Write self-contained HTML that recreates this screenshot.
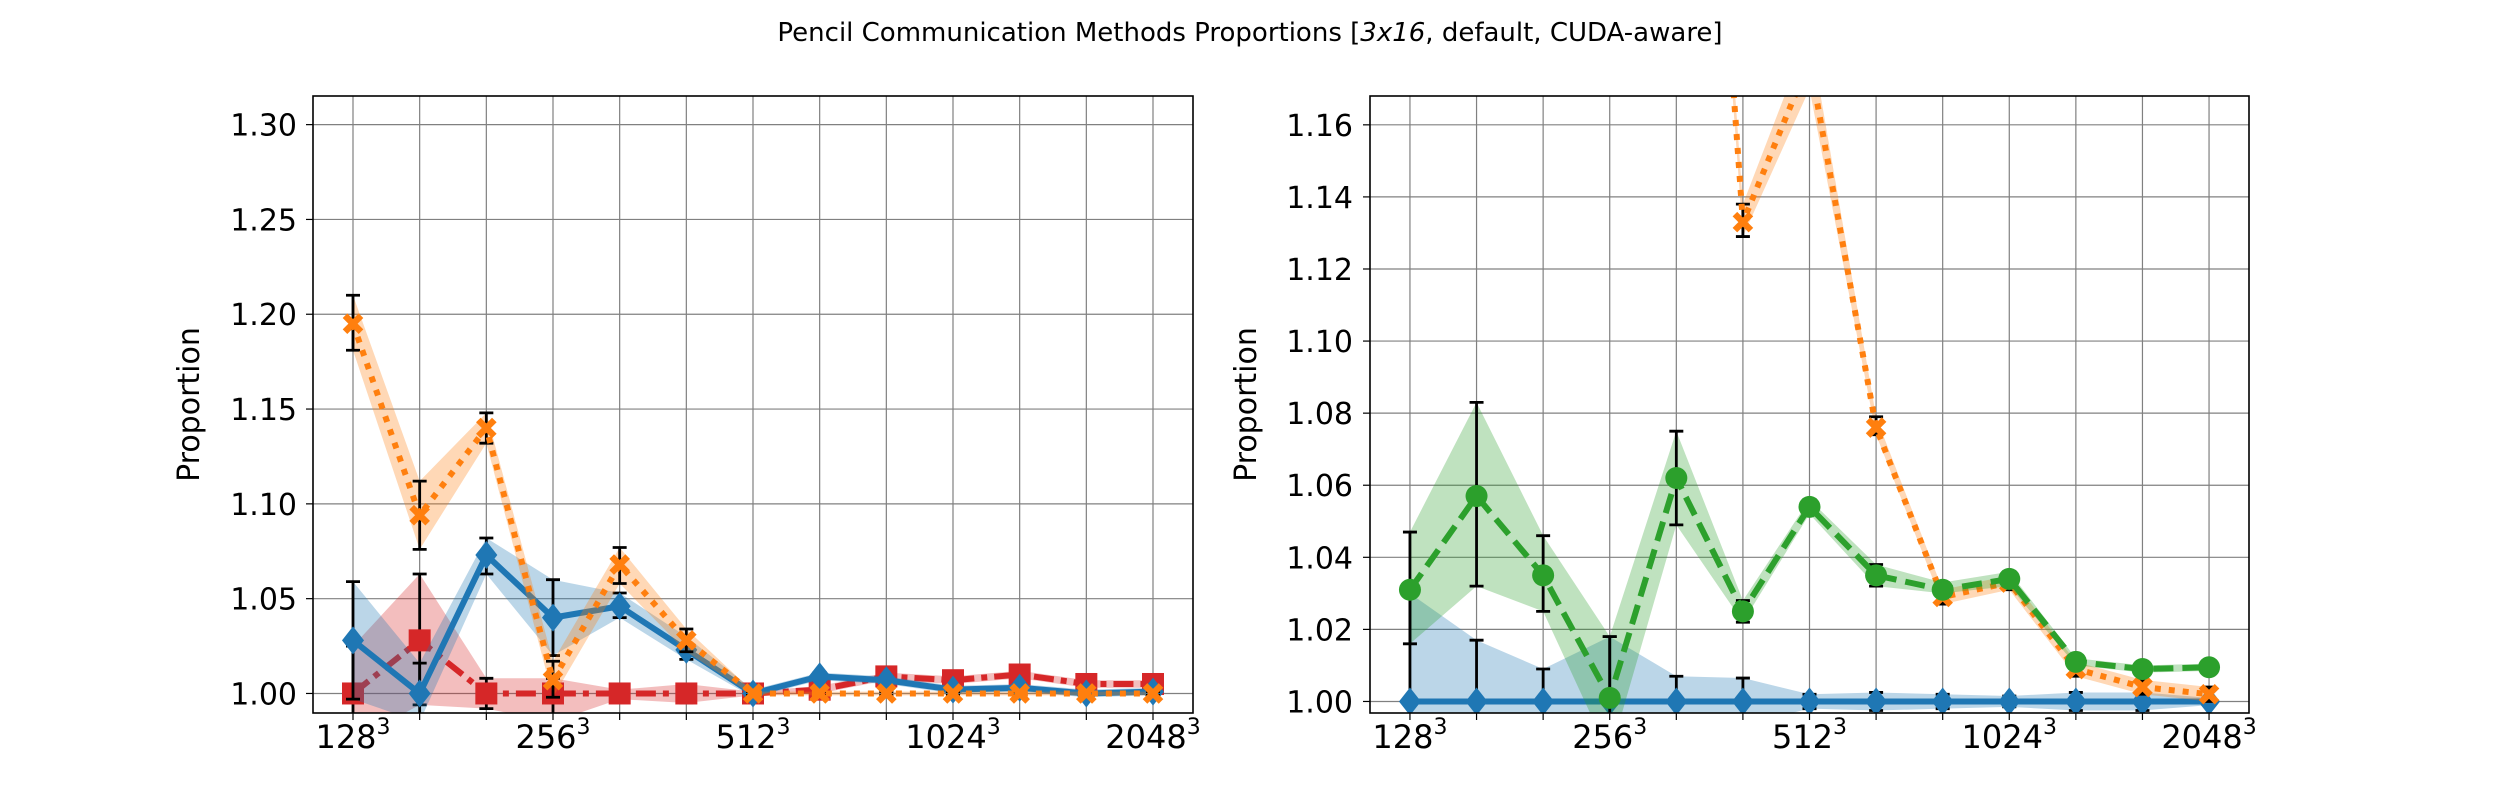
<!DOCTYPE html>
<html><head><meta charset="utf-8">
<style>
html,body{margin:0;padding:0;background:#fff;}
svg{display:block;font-family:"DejaVu Sans","Liberation Sans",sans-serif;}
</style></head>
<body>
<svg id="fig" width="2500" height="800" viewBox="0 0 2500 800" xmlns="http://www.w3.org/2000/svg">
<rect width="2500" height="800" fill="#fff"/>
<text x="1250" y="41" text-anchor="middle" font-size="26">Pencil Communication Methods Proportions [<tspan font-style="italic">3x16</tspan>, default, CUDA-aware]</text>
</svg>
<script>
// ---- data ----
const xLabels = ["128","","","256","","","512","","","1024","","","2048"];
const leftYTicks = [1.00,1.05,1.10,1.15,1.20,1.25,1.30];
const rightYTicks = [1.00,1.02,1.04,1.06,1.08,1.10,1.12,1.14,1.16];

const L_blue = [1.028,1.000,1.073,1.040,1.046,1.023,1.000,1.009,1.007,1.002,1.003,1.000,1.001];
const L_blueLo = [0.997,0.985,1.063,1.020,1.040,1.018,0.998,1.007,1.005,1.000,1.001,0.998,0.999];
const L_blueHi = [1.059,1.016,1.082,1.060,1.053,1.030,1.002,1.011,1.009,1.004,1.005,1.002,1.003];
const L_orange = [1.195,1.094,1.140,1.007,1.068,1.028,1.000,1.000,1.000,1.000,1.000,1.000,1.000];
const L_orangeLo = [1.181,1.076,1.132,0.998,1.058,1.022,0.999,0.999,0.999,0.999,0.999,0.999,0.999];
const L_orangeHi = [1.210,1.112,1.148,1.017,1.077,1.034,1.001,1.001,1.001,1.001,1.001,1.001,1.001];
const L_red = [1.000,1.028,1.000,1.000,1.000,1.000,1.000,1.002,1.009,1.007,1.010,1.005,1.005];
const L_redLo = [0.975,0.994,0.992,0.985,0.997,0.995,0.999,1.000,1.007,1.005,1.008,1.003,1.003];
const L_redHi = [1.025,1.063,1.008,1.008,1.002,1.005,1.001,1.004,1.011,1.009,1.012,1.007,1.007];

const R_blue = [1.000,1.000,1.000,1.000,1.000,1.000,1.000,1.000,1.000,1.000,1.000,1.000,1.000];
const R_blueLo = [0.985,0.983,0.991,0.982,0.993,0.9935,0.998,0.9975,0.998,0.9985,0.9975,0.9975,0.999];
const R_blueHi = [1.030,1.017,1.009,1.018,1.007,1.0065,1.002,1.0025,1.002,1.0015,1.0025,1.0025,1.001];
const R_green = [1.031,1.057,1.035,1.001,1.062,1.025,1.054,1.035,1.031,1.034,1.011,1.009,1.0095];
const R_greenLo = [1.016,1.032,1.025,0.985,1.049,1.022,1.052,1.032,1.030,1.032,1.010,1.008,1.0085];
const R_greenHi = [1.047,1.083,1.046,1.018,1.075,1.028,1.056,1.038,1.033,1.036,1.012,1.010,1.0105];
const R_orange = [1.50,1.50,1.50,1.50,1.39,1.133,1.178,1.076,1.029,1.033,1.009,1.004,1.002];
const R_orangeLo = [1.49,1.49,1.49,1.49,1.38,1.129,1.170,1.074,1.027,1.031,1.007,1.002,1.000];
const R_orangeHi = [1.51,1.51,1.51,1.51,1.40,1.138,1.186,1.079,1.031,1.035,1.011,1.006,1.004];

const NS = "http://www.w3.org/2000/svg";
const svg = document.getElementById('fig');
function mk(tag, attrs, parent){
  const e = document.createElementNS(NS, tag);
  for (const k in attrs) e.setAttribute(k, attrs[k]);
  (parent||svg).appendChild(e);
  return e;
}
const C = {blue:"#1f77b4", orange:"#ff7f0e", green:"#2ca02c", red:"#d62728"};

function makeAxes(id, x0, x1, y0, y1, ymin, ymax, yticks, decimals, ylabelX, tickLabelX){
  const n = xLabels.length;
  const xs = i => x0 + (i + 0.6) / (n - 1 + 1.2) * (x1 - x0);
  const ys = v => y1 - (v - ymin) / (ymax - ymin) * (y1 - y0);
  const g = mk('g', {});
  
  
  const clip = mk('clipPath', {id: id + '-clip'}, g);
  mk('rect', {x: x0, y: y0, width: x1 - x0, height: y1 - y0}, clip);
  for (let i = 0; i < n; i++) {
    const l = mk('line', {x1: xs(i), x2: xs(i), y1: y0, y2: y1, stroke: "#808080", "stroke-width": 1.2}, g);
    
    
    mk('line', {x1: xs(i), x2: xs(i), y1: y1, y2: y1 + 7, stroke: "#000", "stroke-width": 1.2}, g);
    if (xLabels[i]) {
      const t = mk('text', {x: xs(i), y: 748, "text-anchor": "middle", "font-size": 32}, g);
      
      
      t.textContent = xLabels[i];
      const s = mk('tspan', {"font-size": 22, dy: -14}, t);
      s.textContent = "3";
    }
  }
  yticks.forEach(v => {
    const y = ys(v);
    const l = mk('line', {x1: x0, x2: x1, y1: y, y2: y, stroke: "#808080", "stroke-width": 1.2}, g);
    
    
    mk('line', {x1: x0 - 7, x2: x0, y1: y, y2: y, stroke: "#000", "stroke-width": 1.2}, g);
    const t = mk('text', {x: tickLabelX, y: y + 11, "text-anchor": "end", "font-size": 30}, g);
    
    
    t.textContent = v.toFixed(decimals);
  });
  const yl = mk('text', {x: ylabelX, y: (y0 + y1) / 2, "text-anchor": "middle", "font-size": 30, transform: `rotate(-90 ${ylabelX} ${(y0 + y1) / 2})`}, g);
  
  
  yl.textContent = "Proportion";
  const plot = mk('g', {"clip-path": `url(#${id}-clip)`}, g);
  const frame = mk('rect', {x: x0, y: y0, width: x1 - x0, height: y1 - y0, fill: "none", stroke: "#000", "stroke-width": 1.6}, g);
  
  
  return {xs, ys, plot, frame, g};
}

function marker(shape, x, y, color, parent){
  let m;
  if (shape === 'diamond') m = mk('polygon', {points: `${x},${y-14} ${x+11},${y} ${x},${y+14} ${x-11},${y}`, fill: color}, parent);
  else if (shape === 'square') m = mk('rect', {x: x-11, y: y-11, width: 22, height: 22, fill: color}, parent);
  else if (shape === 'circle') m = mk('circle', {cx: x, cy: y, r: 11, fill: color}, parent);
  else m = mk('path', {d: `M${x-8},${y-8}L${x+8},${y+8}M${x+8},${y-8}L${x-8},${y+8}`, stroke: color, "stroke-width": 6.5}, parent);
  return m;
}

function series(ax, name, vals, lo, hi, color, dash, shape){
  const grp = mk('g', {}, ax.plot);
  
  
  let up = vals.map((v, i) => `${ax.xs(i)},${ax.ys(hi[i])}`);
  let dn = vals.map((v, i) => `${ax.xs(i)},${ax.ys(lo[i])}`).reverse();
  const band = mk('polygon', {points: up.concat(dn).join(' '), fill: color, "fill-opacity": 0.3}, grp);
  
  
  vals.forEach((v, i) => {
    const x = ax.xs(i), a = ax.ys(lo[i]), b = ax.ys(hi[i]);
    const eb = mk('path', {d: `M${x},${a}L${x},${b}M${x-7},${a}L${x+7},${a}M${x-7},${b}L${x+7},${b}`, stroke: "#000", "stroke-width": 2.8, fill: "none"}, grp);
    
    
  });
  const line = mk('polyline', {points: vals.map((v, i) => `${ax.xs(i)},${ax.ys(v)}`).join(' '), fill: "none", stroke: color, "stroke-width": 6, "stroke-dasharray": dash, "stroke-linejoin": "round"}, grp);
  
  
  vals.forEach((v, i) => {
    const m = marker(shape, ax.xs(i), ax.ys(v), color, grp);
    
    
  });
}

const left = makeAxes('left', 313, 1193, 96, 713, 0.9897, 1.3151, leftYTicks, 2, 199, 297);
series(left, 'red-series', L_red, L_redLo, L_redHi, C.red, "20,7,6,7", 'square');
series(left, 'blue-series', L_blue, L_blueLo, L_blueHi, C.blue, "none", 'diamond');
series(left, 'orange-series', L_orange, L_orangeLo, L_orangeHi, C.orange, "6,8", 'x');

const right = makeAxes('right', 1370, 2249, 96, 713, 0.9968, 1.168, rightYTicks, 2, 1256, 1353);
series(right, 'blue-series', R_blue, R_blueLo, R_blueHi, C.blue, "none", 'diamond');
series(right, 'orange-series', R_orange, R_orangeLo, R_orangeHi, C.orange, "6,8", 'x');
series(right, 'green-series', R_green, R_greenLo, R_greenHi, C.green, "20,9", 'circle');
</script>
</body></html>
